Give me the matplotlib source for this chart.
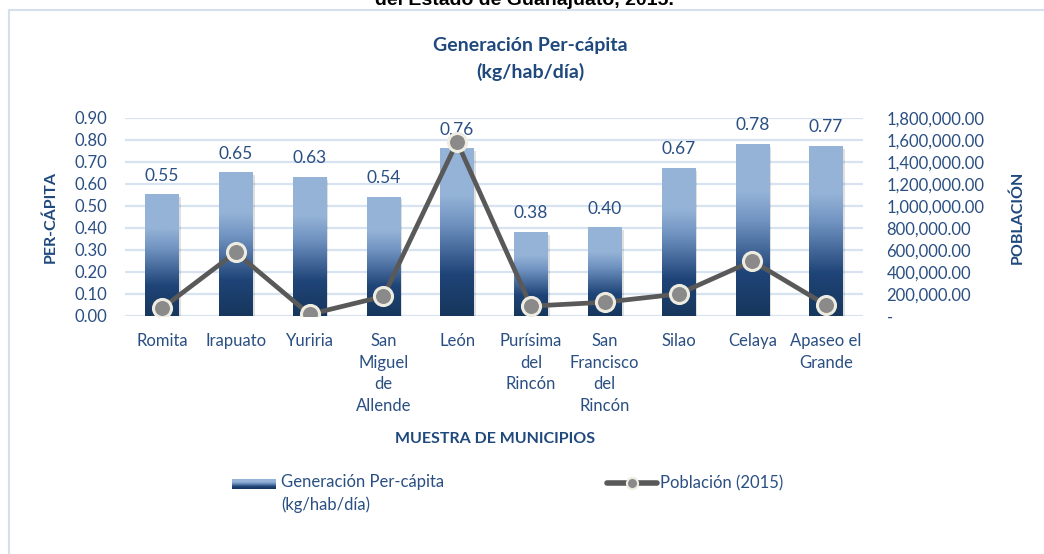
import matplotlib.pyplot as plt
import numpy as np
from matplotlib.colors import LinearSegmentedColormap
from matplotlib.patches import Rectangle
from matplotlib.lines import Line2D
from matplotlib.ticker import FuncFormatter

W, H = 1044, 554

municipios = ["Romita", "Irapuato", "Yuriria", "San\nMiguel\nde\nAllende", "León",
              "Purísima\ndel\nRincón", "San\nFrancisco\ndel\nRincón", "Silao",
              "Celaya", "Apaseo el\nGrande"]
percapita = [0.55, 0.65, 0.63, 0.54, 0.76, 0.38, 0.40, 0.67, 0.78, 0.77]
poblacion = [70000, 578000, 15000, 178000, 1582000, 90000, 125000, 200000, 500000, 100000]

plt.rcParams['font.family'] = 'Lato'

azul = '#1f497d'
txt = '#2a4f82'
gris = '#595959'
rejilla = '#d7e3f1'

blues = LinearSegmentedColormap.from_list(
    'barra', [(0, '#16365c'), (0.25, '#1f4477'), (0.55, '#6f92c0'),
              (0.72, '#95b3d7'), (1, '#95b3d7')])
grad = np.linspace(0, 1, 256).reshape(-1, 1)

fig = plt.figure(figsize=(W / 100, H / 100), dpi=100)
ax = fig.add_axes([125 / W, 1 - 316 / H, (863 - 125) / W, (316 - 118) / H])
ax2 = ax.twinx()

x = np.arange(len(municipios))
bars = ax.bar(x, percapita, width=0.45, color='none', zorder=2)
for b in bars:
    x0, w, h = b.get_x(), b.get_width(), b.get_height()
    # sombra suave
    ax.add_patch(Rectangle((x0 + 0.03, -0.01), w, h, color='black', alpha=0.12,
                           lw=0, zorder=1.9))
    ax.imshow(grad, cmap=blues, origin='lower', aspect='auto',
              extent=(x0, x0 + w, 0, h), zorder=2)

for b, v in zip(bars, percapita):
    ax.annotate(f'{v:.2f}', (b.get_x() + b.get_width() / 2, v), xytext=(0, 8),
                textcoords='offset points', ha='center', va='bottom',
                color=txt, fontsize=12.5)

ax.set_xlim(-0.5, len(x) - 0.5)
ax.set_ylim(0, 0.9)
ax.set_yticks(np.arange(0, 0.91, 0.1))
ax.yaxis.set_major_formatter(FuncFormatter(lambda v, p: f'{v:.2f}'))
ax.grid(axis='y', color=rejilla, lw=1.6)
ax.set_axisbelow(True)
ax.set_xticks(x, municipios)
for lbl in ax.get_xticklabels():
    lbl.set_linespacing(1.45)
ax.tick_params(axis='x', length=0, pad=12, labelsize=12, labelcolor=txt)
ax.tick_params(axis='y', length=0, pad=13, labelsize=12, labelcolor=txt)

ax2.plot(x, poblacion, color=gris, lw=3.4, marker='o', ms=13,
         mfc='#8a8a8a', mec='#eeece1', mew=2.2, zorder=3)
ax2.set_ylim(0, 1800000)
ax2.set_yticks(np.arange(0, 1800001, 200000))
ax2.yaxis.set_major_formatter(FuncFormatter(lambda v, p: '-' if v == 0 else f'{v:,.2f}'))
ax2.tick_params(axis='y', length=0, pad=17, labelsize=12, labelcolor=txt)

for a in (ax, ax2):
    for s in a.spines.values():
        s.set_visible(False)

ax.set_ylabel('PER-CÁPITA', fontweight='bold', color=azul, fontsize=11.5)
ax.yaxis.set_label_coords((58 - 125) / 738, 0.5)
ax2.set_ylabel('POBLACIÓN', fontweight='bold', color=azul, fontsize=11.5)
ax2.yaxis.set_label_coords((1010 - 125) / 738, 0.5)
ax.set_xlabel('MUESTRA DE MUNICIPIOS', fontweight='bold', color=azul, fontsize=11.5)
ax.xaxis.set_label_coords((495 - 125) / 738, (316 - 432) / 198)

fig.text(530 / W, 1 - 59 / H, 'Generación Per-cápita\n(kg/hab/día)', ha='center',
         va='center', fontsize=14, fontweight='bold', color=azul, linespacing=1.55)
fig.text(524 / W, 1 - 5 / H, 'del Estado de Guanajuato, 2015.', ha='center',
         va='baseline', fontsize=14, fontweight='bold', family='Liberation Sans',
         color='black')

# borde del grafico
fig.add_artist(Rectangle((9 / W, -0.1), 1.2, 1.1 - 10 / H, transform=fig.transFigure,
                         fill=False, ec='#d5dfed', lw=1.5))

# leyenda
lax = fig.add_axes([232 / W, 1 - 489 / H, 44 / W, 10 / H])
lax.imshow(grad, cmap=blues, origin='lower', aspect='auto')
lax.axis('off')
fig.text(281 / W, 1 - 474 / H, 'Generación Per-cápita\n(kg/hab/día)', ha='left',
         va='top', fontsize=12, color=txt, linespacing=1.5)
fig.add_artist(Line2D([607 / W, 657 / W], [1 - 483 / H] * 2, transform=fig.transFigure,
                      color=gris, lw=4, solid_capstyle='round'))
fig.add_artist(Line2D([632 / W], [1 - 483 / H], transform=fig.transFigure, marker='o',
                      ms=8, mfc='#8a8a8a', mec='#eeece1', mew=1.5, lw=0))
fig.text(660 / W, 1 - 483 / H, 'Población (2015)', ha='left', va='center',
         fontsize=12, color=txt)

fig.savefig('out.png', dpi=100)
